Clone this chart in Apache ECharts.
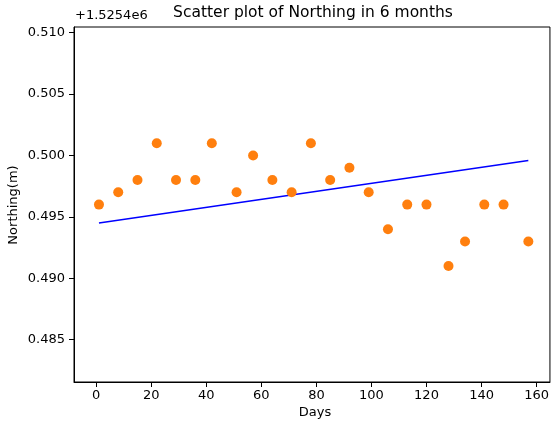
<!DOCTYPE html>
<html>
<head>
<meta charset="utf-8">
<script src="https://cdn.jsdelivr.net/npm/echarts@6/dist/echarts.min.js"></script>
<style>html,body{margin:0;padding:0;background:#fff}#c{width:552px;height:423px}</style>
</head>
<body>
<div id="c"></div>
<script>
// Days (x) and Northing minus offset 1525400 (y)
const days = [1, 8, 15, 22, 29, 36, 42, 51, 57, 64, 71, 78, 85, 92, 99, 106, 113, 120, 128, 134, 141, 148, 157];
const northing = [0.496, 0.497, 0.498, 0.501, 0.498, 0.498, 0.501, 0.497, 0.500, 0.498, 0.497, 0.501, 0.498, 0.499, 0.497, 0.494, 0.496, 0.496, 0.491, 0.493, 0.496, 0.496, 0.493];
// Fitted line endpoints
const lineX = [1, 157];
const lineY = [0.4945, 0.4996];
const xTicks = [0, 20, 40, 60, 80, 100, 120, 140, 160];
const yTicks = [0.485, 0.490, 0.495, 0.500, 0.505, 0.510];
const offsetText = '+1.5254e6';
const titleText = 'Scatter plot of Northing in 6 months';
const xName = 'Days';
const yName = 'Northing(m)';

const font = 'DejaVu Sans';
const chart = echarts.init(document.getElementById('c'), null, {renderer: 'canvas'});
chart.setOption({
  animation: false,
  backgroundColor: '#fff',
  grid: {left: 74, top: 27, right: 0, bottom: 41, show: true, borderColor: '#000', borderWidth: 1, containLabel: false},
  xAxis: {
    type: 'value', min: -8.07, max: 164.85,
    splitLine: {show: false},
    axisLine: {show: true, onZero: false, lineStyle: {color: '#000', width: 1}},
    axisTick: {show: true, length: 5, customValues: xTicks, lineStyle: {color: '#000'}},
    axisLabel: {customValues: xTicks, color: '#000', fontFamily: font, fontSize: 13, margin: 7, formatter: v => String(v)}
  },
  yAxis: {
    type: 'value', min: 0.48156, max: 0.51046,
    splitLine: {show: false},
    axisLine: {show: true, onZero: false, lineStyle: {color: '#000', width: 1}},
    axisTick: {show: true, length: 5, customValues: yTicks, lineStyle: {color: '#000'}},
    axisLabel: {customValues: yTicks, color: '#000', fontFamily: font, fontSize: 13, margin: 9, formatter: v => v.toFixed(3)}
  },
  series: [
    {
      type: 'line', z: 1,
      data: lineX.map((x, i) => [x, lineY[i]]),
      showSymbol: false, symbol: 'none',
      lineStyle: {color: '#0000ff', width: 1.5},
      silent: true
    },
    {
      type: 'scatter', z: 3,
      data: days.map((d, i) => [d, northing[i]]),
      symbol: 'circle', symbolSize: 10,
      itemStyle: {color: '#ff7f0e', opacity: 1}
    }
  ],
  graphic: [
    {type: 'text', x: 313, y: 5, style: {text: titleText, font: '15.5px "DejaVu Sans"', fill: '#000', align: 'center', verticalAlign: 'top'}},
    {type: 'text', x: 75, y: 9, style: {text: offsetText, font: '13px "DejaVu Sans"', fill: '#000', verticalAlign: 'top'}},
    {type: 'text', x: 315, y: 406, style: {text: xName, font: '13px "DejaVu Sans"', fill: '#000', align: 'center', verticalAlign: 'top'}},
    {type: 'text', x: 14, y: 205, rotation: Math.PI / 2, style: {text: yName, font: '13px "DejaVu Sans"', fill: '#000', align: 'center', verticalAlign: 'middle'}}
  ]
});
</script>
</body>
</html>
